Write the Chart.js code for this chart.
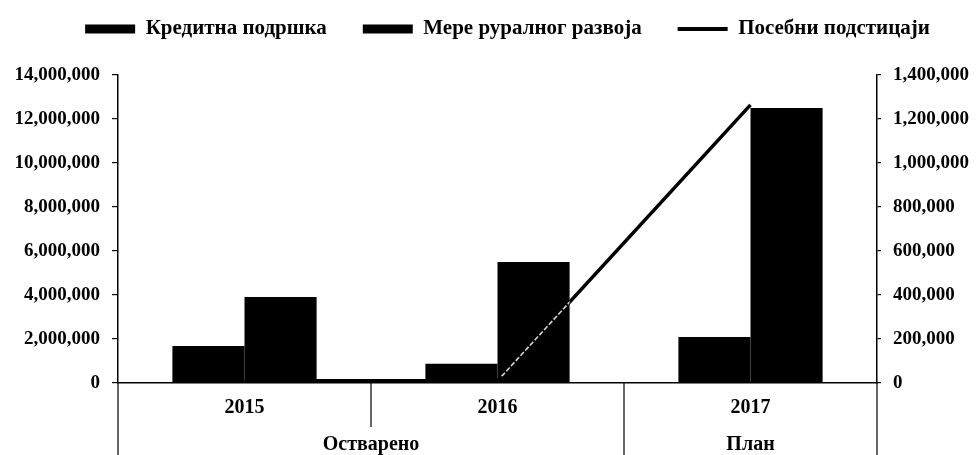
<!DOCTYPE html>
<html><head><meta charset="utf-8">
<script src="https://cdn.jsdelivr.net/npm/chart.js@4.4.1/dist/chart.umd.min.js"></script>
<style>html,body{margin:0;padding:0;background:#fff}#wrap{width:976px;height:455px;position:relative}</style>
</head><body><div id="wrap"><canvas id="c" width="976" height="455"></canvas></div>
<script>
const years = ['2015', '2016', '2017'];
const groupLabels = ['Остварено', 'План'];
const groupSpans = [[0, 1], [2, 2]];
const seriesNames = ['Кредитна подршка', 'Мере руралног развоја', 'Посебни подстицаји'];
const creditSupport = [1680000, 870000, 2090000];
const ruralDevelopment = [3910000, 5500000, 12500000];
const specialIncentives = [10000, 10000, 1264000];

const FONT = '"Liberation Serif", "Times New Roman", serif';
const fmt = v => Number(v).toLocaleString('en-US');

const legendFit = {
  id: 'legendFit',
  beforeInit(chart) {
    const orig = chart.legend.fit;
    chart.legend.fit = function () { orig.call(this); this.height = 92.5; };
  }
};

// light streak where the line crosses the black bars (as in the scanned original)
const lineOverBars = {
  id: 'lineOverBars',
  afterDatasetDraw(chart, args) {
    if (args.index !== 2) return;
    const ctx = chart.ctx;
    const pts = chart.getDatasetMeta(2).data;
    ctx.save();
    ctx.beginPath();
    [0, 1].forEach(d => chart.getDatasetMeta(d).data.forEach(b => {
      const { x, y, base, width } = b.getProps(['x', 'y', 'base', 'width'], true);
      if (base - y > 8) ctx.rect(x - width / 2, y, width, base - y - 6);
    }));
    ctx.clip();
    ctx.beginPath();
    pts.forEach((p, i) => i ? ctx.lineTo(p.x, p.y) : ctx.moveTo(p.x, p.y));
    ctx.strokeStyle = 'rgba(235,235,235,0.9)';
    ctx.lineWidth = 1.6;
    ctx.setLineDash([5, 2]);
    ctx.stroke();
    ctx.restore();
  }
};

const groupAxis = {
  id: 'groupAxis',
  afterDraw(chart) {
    const ctx = chart.ctx, xs = chart.scales.x, ca = chart.chartArea;
    const p = i => xs.getPixelForValue(i);
    const half = (p(1) - p(0)) / 2;
    const bottom = chart.height;
    ctx.save();
    ctx.strokeStyle = '#000'; ctx.lineWidth = 1.2;
    const seps = [[ca.left, bottom], [p(0) + half, 427], [p(1) + half, bottom], [ca.right, bottom]];
    seps.forEach(([x, yEnd]) => { ctx.beginPath(); ctx.moveTo(x, ca.bottom); ctx.lineTo(x, yEnd); ctx.stroke(); });
    ctx.fillStyle = '#000';
    ctx.font = 'bold 20px ' + FONT;
    ctx.textAlign = 'center'; ctx.textBaseline = 'middle';
    groupSpans.forEach(([a, b], i) => {
      const cx = (p(a) + p(b)) / 2;
      ctx.fillText(groupLabels[i], cx, 445);
    });
    ctx.restore();
  }
};

new Chart(document.getElementById('c'), {
  data: {
    labels: years,
    datasets: [
      { type: 'bar', label: seriesNames[0], data: creditSupport, backgroundColor: '#000', borderWidth: 0, yAxisID: 'y', order: 1 },
      { type: 'bar', label: seriesNames[1], data: ruralDevelopment, backgroundColor: '#000', borderWidth: 0, yAxisID: 'y', order: 1 },
      { type: 'line', label: seriesNames[2], data: specialIncentives, borderColor: '#000', backgroundColor: '#000', borderWidth: 3.5, pointRadius: 0, tension: 0, yAxisID: 'y1', order: 0 }
    ]
  },
  options: {
    responsive: false,
    animation: false,
    devicePixelRatio: 1,
    layout: { padding: { top: -17.5, left: 0, right: -39, bottom: 0 } },
    datasets: { bar: { barPercentage: 1, categoryPercentage: 0.57 } },
    plugins: {
      tooltip: { enabled: false },
      legend: {
        position: 'top',
        labels: {
          color: '#000',
          font: { family: FONT, size: 21, weight: 'bold' },
          padding: 36,
          usePointStyle: true,
          pointStyleWidth: 50,
          boxHeight: 9,
          sort: (a, b) => a.datasetIndex - b.datasetIndex,
          generateLabels(chart) {
            return chart.data.datasets.map((ds, i) => ({
              text: ds.label,
              datasetIndex: i,
              fillStyle: '#000',
              strokeStyle: '#000',
              lineWidth: ds.type === 'line' ? 4 : 0,
              pointStyle: ds.type === 'line' ? 'line' : 'rect',
              hidden: false,
              fontColor: '#000'
            }));
          }
        }
      }
    },
    scales: {
      x: {
        type: 'category',
        offset: true,
        grid: { display: true, drawOnChartArea: false, drawTicks: true, tickLength: 6, color: 'rgba(0,0,0,0)' },
        border: { display: true, color: '#000', width: 1.5 },
        ticks: { color: '#000', font: { family: FONT, size: 20, weight: 'bold' }, padding: 7, maxRotation: 0 },
        afterFit(s) { s.height = 72; }
      },
      y: {
        position: 'left',
        min: 0, max: 14000000,
        ticks: { stepSize: 2000000, color: '#000', font: { family: FONT, size: 19, weight: 'bold' }, padding: 12, callback: fmt },
        grid: { drawOnChartArea: false, drawTicks: true, tickLength: 6, color: '#000', lineWidth: 1.2 },
        border: { display: true, color: '#000', width: 1.5 },
        afterFit(s) { s.width = 118; }
      },
      y1: {
        position: 'right',
        min: 0, max: 1400000,
        ticks: { stepSize: 200000, color: '#000', font: { family: FONT, size: 19, weight: 'bold' }, padding: 12, callback: fmt },
        grid: { drawOnChartArea: false, drawTicks: true, tickLength: 4, color: '#000', lineWidth: 1.2 },
        border: { display: true, color: '#000', width: 1.5 },
        afterFit(s) { s.width = 138; }
      }
    }
  },
  plugins: [legendFit, lineOverBars, groupAxis]
});
</script>
</body></html>
